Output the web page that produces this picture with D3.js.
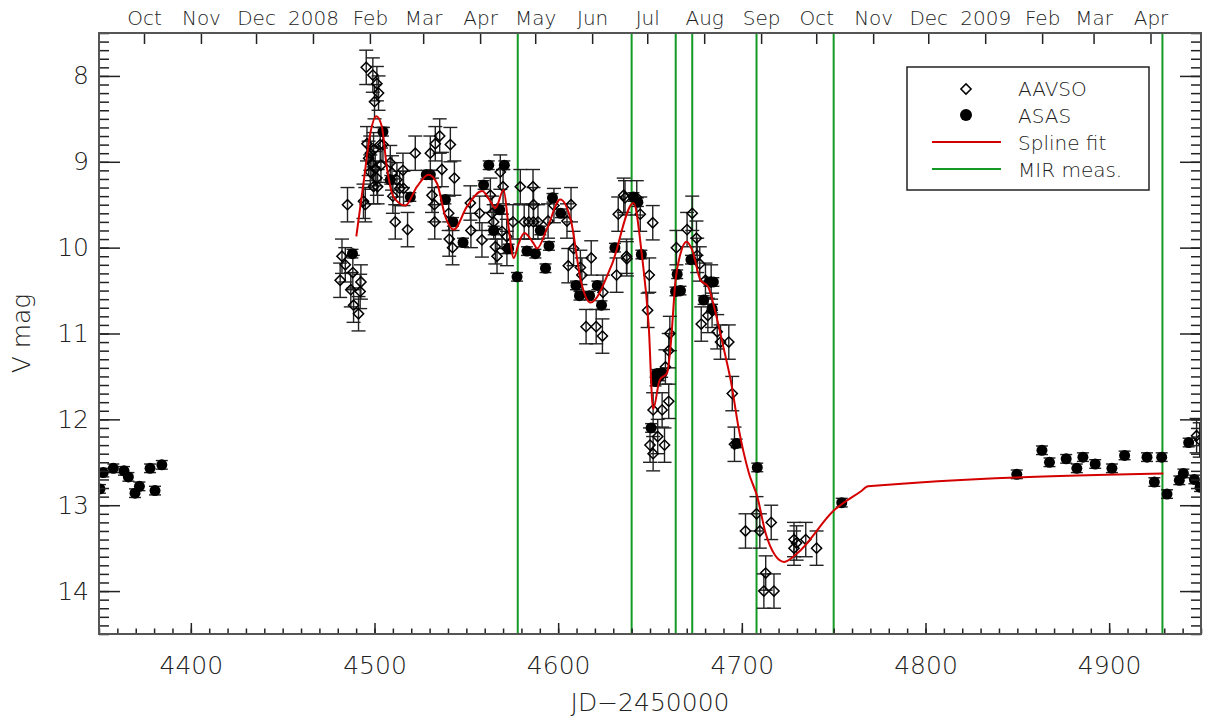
<!DOCTYPE html>
<html>
<head>
<meta charset="utf-8">
<script src="https://cdn.jsdelivr.net/npm/d3@7"></script>
<style>
  body { margin: 0; background: #fff; }
  text { font-family: "DejaVu Sans", sans-serif; font-weight: 200; fill: #222; }
</style>
</head>
<body>
<div id="chart"></div>
<script>
// AAVSO visual estimates [JD-2450000, V mag]
var aavso = [
  [4481.3,10.38],[4482.3,10.10],[4484.1,10.20],[4485.3,9.50],[4487.1,10.49],[4488.2,10.29],
  [4488.6,10.67],[4491.3,10.77],[4492.2,10.51],[4492.6,10.40],[4494.0,9.46],[4495.0,9.50],
  [4495.5,7.90],[4499.1,7.99],[4501.3,8.09],[4502.2,8.20],[4500.0,8.30],[4495.9,8.79],
  [4497.7,8.90],[4496.8,8.96],[4499.5,8.86],[4498.6,9.02],[4500.4,9.08],[4497.7,9.12],
  [4501.3,9.19],[4499.5,9.29],[4501.7,9.29],[4503.5,9.04],[4503.1,8.80],[4504.6,8.80],
  [4508.6,9.01],[4509.5,9.13],[4510.0,9.40],[4511.3,9.70],[4512.2,9.21],[4513.7,9.31],
  [4515.5,9.10],[4515.8,9.31],[4518.0,9.79],[4522.2,8.90],[4530.4,8.90],[4533.1,8.79],
  [4535.5,8.70],[4541.3,8.80],[4531.3,9.39],[4532.6,9.50],[4532.8,9.70],[4536.7,9.09],
  [4543.5,9.19],[4540.4,9.60],[4540.7,9.90],[4542.5,10.00],[4552.5,9.80],[4552.2,9.48],
  [4557.2,9.60],[4558.5,9.91],[4563.1,9.39],[4564.0,9.60],[4564.9,9.70],[4565.8,9.99],
  [4566.7,10.10],[4568.5,9.12],[4570.0,9.29],[4569.4,9.81],[4572.1,10.01],[4575.4,9.70],
  [4579.4,9.29],[4586.3,9.29],[4586.6,9.50],[4581.5,9.70],[4584.0,9.70],[4586.5,9.70],
  [4589.0,9.70],[4572.0,9.87],[4594.5,9.69],[4597.7,9.51],[4607.0,9.50],[4604.8,9.69],
  [4608.4,10.01],[4605.5,10.21],[4612.1,10.23],[4612.9,10.32],[4618.0,10.12],[4624.4,10.52],
  [4615.2,10.92],[4620.7,10.92],[4624.1,11.03],[4631.8,10.32],[4637.4,10.13],[4632.7,9.61],
  [4636.4,9.42],[4642.8,9.42],[4644.7,9.61],[4651.5,9.71],[4649.6,10.32],[4648.7,10.73],
  [4635.7,9.39],[4637.2,10.10],[4660.8,11.00],[4660.2,11.20],[4658.4,11.39],[4651.7,11.89],
  [4656.6,11.89],[4660.2,11.79],[4654.2,12.20],[4650.0,12.30],[4651.7,12.40],[4657.9,12.30],
  [4664.4,10.00],[4670.2,9.79],[4673.0,9.60],[4675.3,9.89],[4675.7,10.09],[4677.1,10.19],
  [4680.2,10.38],[4683.3,10.40],[4681.5,10.79],[4677.9,10.89],[4683.8,10.73],[4686.6,10.98],
  [4688.4,11.10],[4692.9,11.10],[4694.8,11.70],[4696.0,12.29],[4702.0,13.30],[4708.0,13.10],
  [4709.8,13.30],[4716.0,13.20],[4713.0,13.79],[4712.0,14.00],[4717.5,14.00],[4728.4,13.40],
  [4728.4,13.50],[4729.8,13.44],[4734.8,13.40],[4740.7,13.50],[4947.6,12.19],[4949.3,12.24]
];
var aavsoErr = 0.2;

// ASAS photometry [JD-2450000, V mag]
var asas = [
  [4350.5,12.81],[4352.3,12.62],[4357.8,12.57],[4363.6,12.60],[4366.0,12.67],[4369.6,12.86],
  [4372.0,12.78],[4377.8,12.57],[4380.5,12.83],[4384.2,12.53],
  [4488.0,10.07],[4504.6,8.65],[4508.6,9.21],[4519.5,9.41],[4528.2,9.15],[4530.4,9.15],
  [4538.6,9.44],[4542.7,9.70],[4548.2,9.94],[4559.4,9.27],[4562.2,9.04],[4570.7,9.04],
  [4564.9,9.80],[4568.2,9.56],[4573.0,10.01],[4577.6,10.34],[4583.0,10.04],[4587.6,10.07],
  [4590.3,9.80],[4593.1,10.24],[4595.0,9.98],[4596.9,9.42],[4601.4,9.60],[4609.7,10.44],
  [4611.6,10.56],[4617.1,10.56],[4621.3,10.44],[4623.6,10.67],[4630.9,10.00],[4641.0,9.41],
  [4643.4,9.47],[4645.3,10.08],[4653.5,11.47],[4653.0,11.56],[4656.6,11.46],[4655.0,11.50],
  [4650.6,12.10],[4663.9,10.51],[4666.6,10.50],[4664.8,10.31],[4672.3,10.14],[4679.2,10.61],
  [4682.3,10.40],[4684.5,10.40],[4683.8,10.71],[4697.2,12.28],[4708.4,12.56],[4754.4,12.97],
  [4849.7,12.64],[4863.4,12.36],[4867.5,12.50],[4876.6,12.46],[4882.4,12.57],[4885.7,12.44],
  [4892.4,12.52],[4901.5,12.57],[4908.4,12.42],[4920.6,12.44],[4928.6,12.44],[4924.6,12.73],
  [4931.5,12.87],[4938.2,12.71],[4940.4,12.63],[4946.4,12.70],[4943.3,12.27],[4949.5,12.79]
];
var asasErr = 0.05;

// spline fit
var spline = [
  [4490.1,9.87],[4494.0,9.25],[4497.7,8.67],[4501.0,8.47],[4504.0,8.59],[4506.7,9.06],
  [4510.4,9.41],[4516.8,9.51],[4523.1,9.29],[4529.4,9.15],[4534.0,9.25],[4538.6,9.64],
  [4543.1,9.79],[4550.4,9.52],[4558.6,9.34],[4563.1,9.46],[4565.8,9.54],[4570.3,9.33],
  [4573.0,9.76],[4575.8,10.12],[4578.5,9.95],[4581.6,9.83],[4586.6,9.95],[4588.5,10.01],
  [4594.1,9.77],[4601.1,9.44],[4607.0,9.69],[4612.5,10.40],[4617.6,10.64],[4629.0,10.21],
  [4641.0,9.48],[4645.6,10.09],[4649.3,10.91],[4651.7,11.88],[4655.3,11.54],[4659.3,11.46],
  [4661.2,11.15],[4663.9,10.38],[4666.6,10.07],[4669.9,9.93],[4673.0,10.03],[4677.5,10.38],
  [4681.5,10.45],[4685.7,10.76],[4690.3,11.19],[4694.0,11.55],[4698.4,12.12],[4703.9,12.63],
  [4708.4,12.90],[4713.0,13.33],[4718.0,13.58],[4723.0,13.66],[4730.2,13.56],[4750.2,13.06],
  [4764.7,12.84],[4768.7,12.78],[4929.5,12.63]
];

// dates of the MIR measurements
var mirDates = [4578, 4640, 4664, 4673, 4708, 4750, 4929];

// calendar axis: first of each month
var monthJD = [4374.5,4405.5,4435.5,4466.5,4497.5,4526.5,4557.5,4587.5,4618.5,4648.5,
  4679.5,4710.5,4740.5,4771.5,4801.5,4832.5,4863.5,4891.5,4922.5];
var monthLabels = ["Oct","Nov","Dec","2008","Feb","Mar","Apr","May","Jun","Jul",
  "Aug","Sep","Oct","Nov","Dec","2009","Feb","Mar","Apr"];

var jdTicks = [4400, 4500, 4600, 4700, 4800, 4900];
var magTicks = [8, 9, 10, 11, 12, 13, 14];

var svgWidth = 1206;
var svgHeight = 719;
var margin = { top: 33, right: 5, bottom: 85, left: 99 };
var width = svgWidth - margin.left - margin.right;
var height = svgHeight - margin.top - margin.bottom;

var red = "#d40000";
var green = "#129a24";
var ink = "#222";

var svg = d3.select("#chart").append("svg")
  .attr("width", svgWidth)
  .attr("height", svgHeight);

var g = svg.append("g")
  .attr("transform", `translate(${margin.left}, ${margin.top})`);

var x = d3.scaleLinear().domain([4350, 4950]).range([0, width]);
var y = d3.scaleLinear().domain([7.5, 14.5]).range([0, height]);

svg.append("defs").append("clipPath").attr("id", "clip")
  .append("rect").attr("width", width).attr("height", height);

var plot = g.append("g").attr("clip-path", "url(#clip)");

// MIR measurement epochs
plot.selectAll(".mir").data(mirDates).enter().append("line")
  .attr("x1", d => x(d)).attr("x2", d => x(d))
  .attr("y1", 0).attr("y2", height)
  .attr("stroke", green).attr("stroke-width", 2);

// error bars
function errorBars(data, err, cap) {
  var eb = plot.append("g").attr("stroke", ink).attr("stroke-width", 1.4);
  data.forEach(function(d) {
    var cx = x(d[0]), y0 = y(d[1] - err), y1 = y(d[1] + err);
    eb.append("line").attr("x1", cx).attr("x2", cx).attr("y1", y0).attr("y2", y1);
    eb.append("line").attr("x1", cx - cap).attr("x2", cx + cap).attr("y1", y0).attr("y2", y0);
    eb.append("line").attr("x1", cx - cap).attr("x2", cx + cap).attr("y1", y1).attr("y2", y1);
  });
}
errorBars(aavso, aavsoErr, 7);
errorBars(asas, asasErr, 6);

var diamond = d3.symbol().type(d3.symbolSquare).size(52);

plot.selectAll(".aavso").data(aavso).enter().append("path")
  .attr("d", diamond)
  .attr("transform", d => `translate(${x(d[0])},${y(d[1])}) rotate(45)`)
  .attr("fill", "none").attr("stroke", "#000").attr("stroke-width", 1.5);

plot.selectAll(".asas").data(asas).enter().append("circle")
  .attr("cx", d => x(d[0])).attr("cy", d => y(d[1]))
  .attr("r", 5.5).attr("fill", "#000");

var line = d3.line()
  .x(d => x(d[0])).y(d => y(d[1]))
  .curve(d3.curveMonotoneX);

plot.append("path").datum(spline)
  .attr("d", line)
  .attr("fill", "none").attr("stroke", red).attr("stroke-width", 2);

// axes
function styleAxis(sel) {
  sel.select(".domain").remove();
  sel.selectAll("line").attr("stroke", ink).attr("stroke-width", 1.5);
  sel.selectAll("text").attr("fill", ink).style("font-size", "25px");
}

g.append("g").attr("transform", `translate(0, ${height})`)
  .call(d3.axisBottom(x).tickValues(d3.range(4350, 4951, 10)).tickSize(-5.5).tickFormat(""))
  .call(styleAxis);
g.append("g").attr("transform", `translate(0, ${height})`)
  .call(d3.axisBottom(x).tickValues(jdTicks).tickSize(-11).tickPadding(22).tickFormat(d3.format("d")))
  .call(styleAxis);

var minorMag = d3.range(75, 146).map(d => d / 10);
g.append("g")
  .call(d3.axisLeft(y).tickValues(minorMag).tickSize(-10).tickFormat(""))
  .call(styleAxis);
g.append("g")
  .call(d3.axisLeft(y).tickValues(magTicks).tickSize(-21).tickPadding(10).tickFormat(d3.format("d")))
  .call(styleAxis);
g.append("g").attr("transform", `translate(${width}, 0)`)
  .call(d3.axisRight(y).tickValues(minorMag).tickSize(-10).tickFormat(""))
  .call(styleAxis);
g.append("g").attr("transform", `translate(${width}, 0)`)
  .call(d3.axisRight(y).tickValues(magTicks).tickSize(-21).tickFormat(""))
  .call(styleAxis);

var monthAxis = g.append("g")
  .call(d3.axisTop(x).tickValues(monthJD).tickSize(-11).tickPadding(8)
    .tickFormat((d, i) => monthLabels[i]))
  .call(styleAxis);
monthAxis.selectAll("text").style("font-size", "20px");

g.append("rect")
  .attr("width", width).attr("height", height)
  .attr("fill", "none").attr("stroke", "#555").attr("stroke-width", 2);

g.append("text")
  .attr("x", width / 2).attr("y", height + 77)
  .attr("text-anchor", "middle")
  .style("font-size", "25px")
  .text("JD\u22122450000");

g.append("text")
  .attr("transform", `translate(${30 - margin.left}, ${height / 2}) rotate(-90)`)
  .attr("text-anchor", "middle")
  .style("font-size", "25px")
  .text("V mag");

// legend
var lg = svg.append("g").attr("transform", "translate(907, 67)");
lg.append("rect").attr("width", 242).attr("height", 123)
  .attr("fill", "#fff").attr("stroke", ink).attr("stroke-width", 1.5);
lg.append("path").attr("d", diamond)
  .attr("transform", "translate(59,22) rotate(45)")
  .attr("fill", "none").attr("stroke", "#000").attr("stroke-width", 1.5);
lg.append("circle").attr("cx", 59).attr("cy", 48).attr("r", 6).attr("fill", "#000");
lg.append("line").attr("x1", 25).attr("x2", 94).attr("y1", 75).attr("y2", 75)
  .attr("stroke", red).attr("stroke-width", 2);
lg.append("line").attr("x1", 25).attr("x2", 94).attr("y1", 102).attr("y2", 102)
  .attr("stroke", green).attr("stroke-width", 2);
lg.selectAll(".lt").data(["AAVSO", "ASAS", "Spline fit", "MIR meas."]).enter().append("text")
  .attr("x", 111).attr("y", (d, i) => 22 + i * 27)
  .attr("dy", "0.36em")
  .style("font-size", "20px")
  .text(d => d);
</script>
</body>
</html>
